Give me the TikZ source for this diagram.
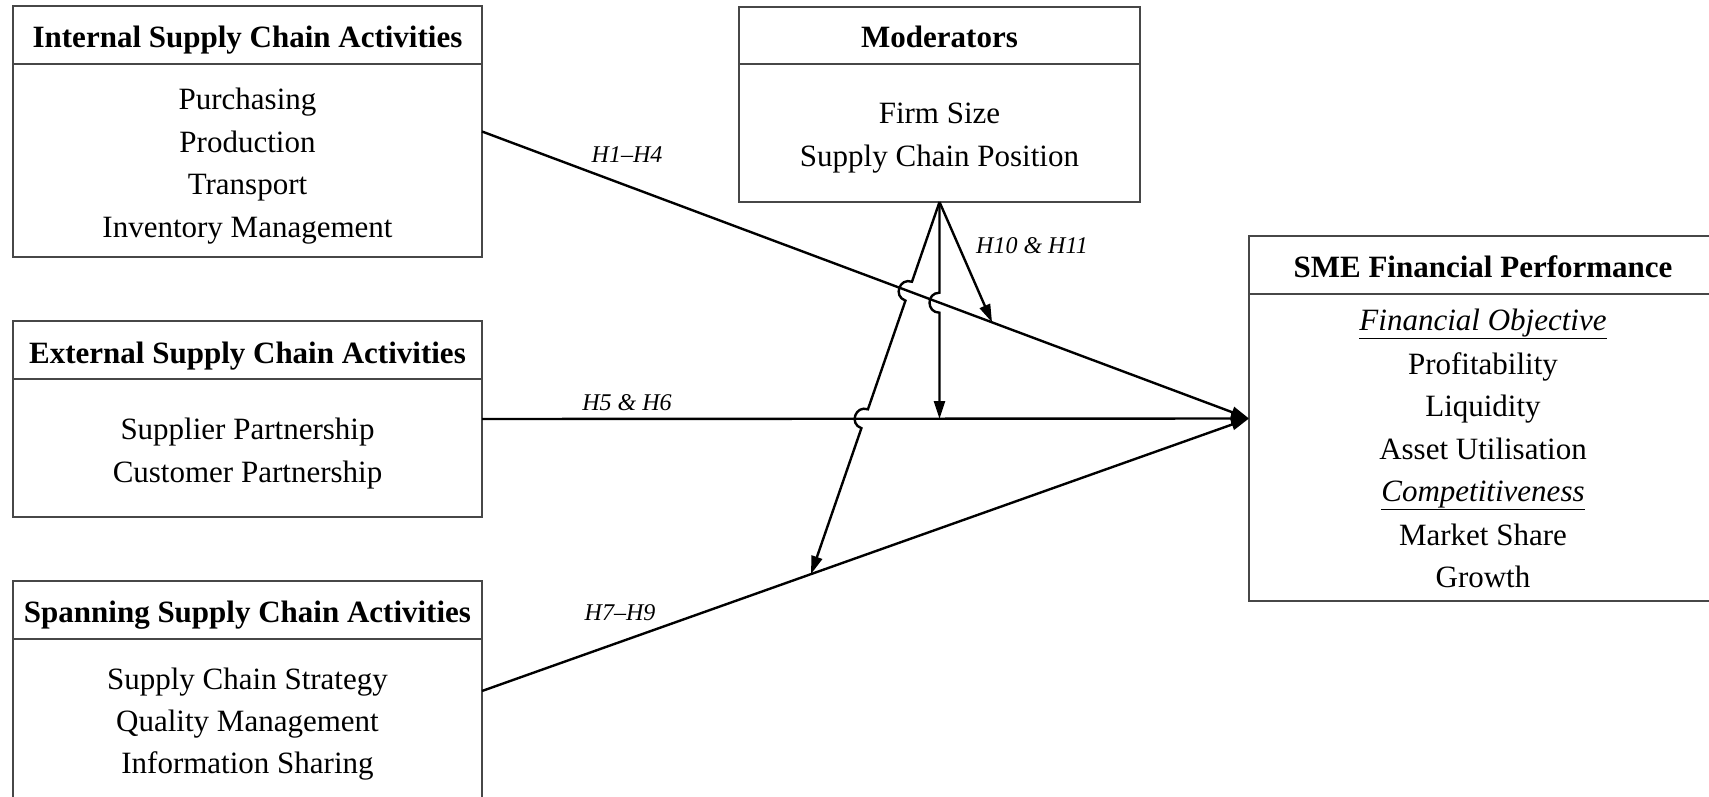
\documentclass[tikz,border=0pt]{standalone}
\usepackage{fontspec}
\setmainfont{Liberation Serif}
\usetikzlibrary{calc,intersections,arrows.meta}
\begin{document}
\begin{tikzpicture}[x=1pt,y=1pt,
  box/.style={draw=black!72, line width=2pt, rectangle, inner sep=0pt, outer sep=0pt},
  divl/.style={draw=black!72, line width=2pt},
  ttl/.style={anchor=base, font=\fontsize{31}{37}\selectfont\bfseries, inner sep=0pt},
  txt/.style={anchor=base, font=\fontsize{31}{37}\selectfont, inner sep=0pt},
  lbl/.style={anchor=base, font=\fontsize{24}{28}\selectfont\itshape, inner sep=0pt},
  conn/.style={line width=2.4pt, -{Triangle[length=18pt,width=11pt]}},
]
\clip (0,0) rectangle (1709,-797);
\fill[white] (0,0) rectangle (1709,-797);

% boxes
\node[box, minimum width=469pt, minimum height=251pt] (int) at (247.5,-131.5) {};
\draw[divl] ([yshift=-58pt]int.north west) -- ([yshift=-58pt]int.north east);
\node[box, minimum width=469pt, minimum height=196pt] (ext) at (247.5,-419) {};
\draw[divl] ([yshift=-58pt]ext.north west) -- ([yshift=-58pt]ext.north east);
\node[box, minimum width=469pt, minimum height=239pt] (spn) at (247.5,-700.5) {};
\draw[divl] ([yshift=-58pt]spn.north west) -- ([yshift=-58pt]spn.north east);
\node[box, minimum width=401pt, minimum height=195pt] (mod) at (939.5,-104.5) {};
\draw[divl] ([yshift=-57pt]mod.north west) -- ([yshift=-57pt]mod.north east);
\node[box, minimum width=468pt, minimum height=365pt] (sme) at (1483,-418.5) {};
\draw[divl] ([yshift=-58pt]sme.north west) -- ([yshift=-58pt]sme.north east);

% texts
\node[ttl] (intT) at (247.5,-48) {Internal Supply Chain Activities};
\node[txt] (int1) at (247.5,-110) {Purchasing};
\node[txt] (int2) at (247.5,-152.5) {Production};
\node[txt] (int3) at (247.5,-195) {Transport};
\node[txt] (int4) at (247.5,-237.5) {Inventory Management};

\node[ttl] (extT) at (247.5,-363) {External Supply Chain Activities};
\node[txt] (ext1) at (247.5,-439) {Supplier Partnership};
\node[txt] (ext2) at (247.5,-482) {Customer Partnership};

\node[ttl] (spnT) at (247.5,-622) {Spanning Supply Chain Activities};
\node[txt] (spn1) at (247.5,-689) {Supply Chain Strategy};
\node[txt] (spn2) at (247.5,-731.5) {Quality Management};
\node[txt] (spn3) at (247.5,-773.5) {Information Sharing};

\node[ttl] (modT) at (939.5,-48) {Moderators};
\node[txt] (mod1) at (939.5,-124) {Firm Size};
\node[txt] (mod2) at (939.5,-166.5) {Supply Chain Position};

\node[ttl] (smeT) at (1483,-277) {SME Financial Performance};
\node[txt] (sme1) at (1483,-330.5) {\underline{\itshape Financial Objective}};
\node[txt] (sme2) at (1483,-374) {Profitability};
\node[txt] (sme3) at (1483,-416.5) {Liquidity};
\node[txt] (sme4) at (1483,-459) {Asset Utilisation};
\node[txt] (sme5) at (1483,-501.5) {\underline{\itshape Competitiveness}};
\node[txt] (sme6) at (1483,-545) {Market Share};
\node[txt] (sme7) at (1483,-587) {Growth};

% labels
\node[lbl] (l1) at (627,-163) {H1–H4};
\node[lbl] (l2) at (627,-410) {H5 \& H6};
\node[lbl] (l3) at (620,-620) {H7–H9};
\node[lbl] (l4) at (1032,-253) {H10 \& H11};

% main connectors
\coordinate (spnout) at (482,-691);
\draw[conn] (int.east) -- (sme.west);
\draw[conn] (ext.east) -- (sme.west);
\draw[conn] (spnout) -- (sme.west);

% moderator targets
\coordinate (t1) at ($(int.east)!0.665!(sme.west)$);
\coordinate (t2) at (mod.south |- ext.east);
\coordinate (t3) at ($(spnout)!0.429!(sme.west)$);

\path[name path=Lint] (int.east) -- (sme.west);
\path[name path=Lext] (ext.east) -- (sme.west);
\path[name path=Av] (mod.south) -- (t2);
\path[name path=Al] (mod.south) -- (t3);
\path[name intersections={of=Av and Lint, by=x1}];
\path[name intersections={of=Al and Lint, by=x2}];
\path[name intersections={of=Al and Lext, by=x3}];

\coordinate (x1a) at ($(x1)!10pt!(mod.south)$);
\coordinate (x1b) at ($(x1)!10pt!(t2)$);
\coordinate (x2a) at ($(x2)!10pt!(mod.south)$);
\coordinate (x2b) at ($(x2)!10pt!(t3)$);
\coordinate (x3a) at ($(x3)!10pt!(mod.south)$);
\coordinate (x3b) at ($(x3)!10pt!(t3)$);

\draw[conn] (mod.south) -- (t1);
\draw[conn] (mod.south) -- (x1a)
  .. controls ($(x1a)!13.3pt!-90:(x1b)$) and ($(x1b)!13.3pt!90:(x1a)$) .. (x1b) -- (t2);
\draw[conn] (mod.south) -- (x2a)
  .. controls ($(x2a)!13.3pt!-90:(x2b)$) and ($(x2b)!13.3pt!90:(x2a)$) .. (x2b) -- (x3a)
  .. controls ($(x3a)!13.3pt!-90:(x3b)$) and ($(x3b)!13.3pt!90:(x3a)$) .. (x3b) -- (t3);
\end{tikzpicture}
\end{document}
